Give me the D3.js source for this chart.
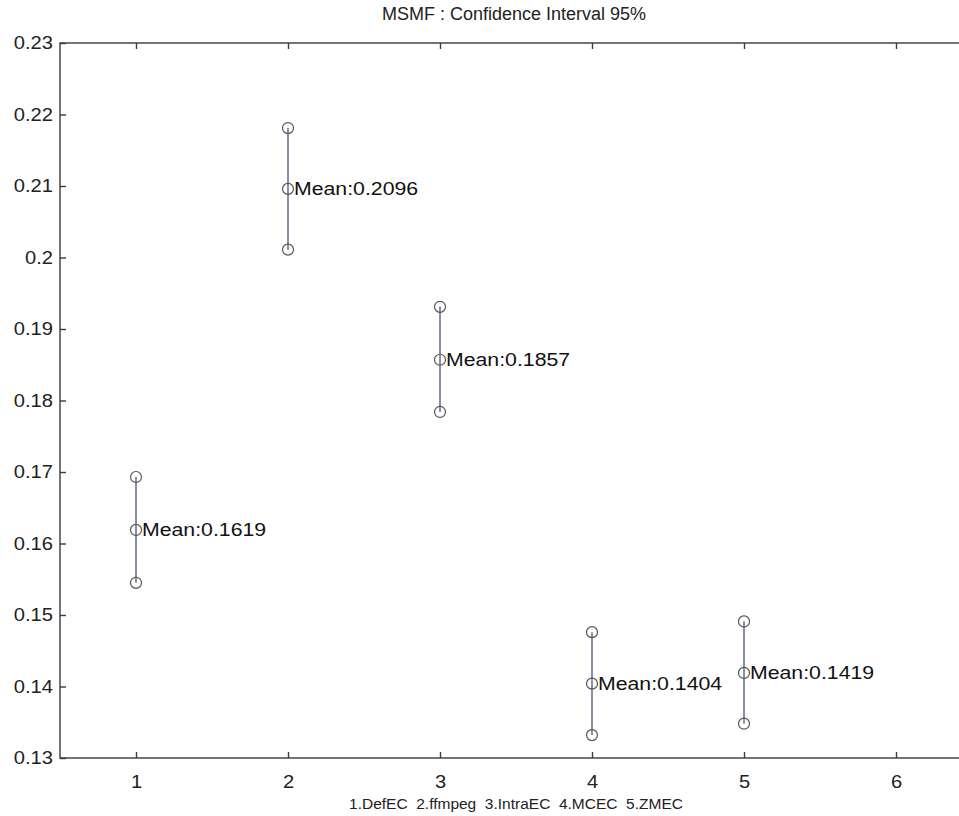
<!DOCTYPE html>
<html><head><meta charset="utf-8">
<script src="https://cdn.jsdelivr.net/npm/d3@7"></script>
<style>body{margin:0;background:#fff;} svg{display:block;}</style>
</head><body>
<svg id="c" width="959" height="816"></svg>
<script>
const groups = [1, 2, 3, 4, 5];
const means = [0.1619, 0.2096, 0.1857, 0.1404, 0.1419];
const uppers = [0.1693, 0.2181, 0.1931, 0.1476, 0.1491];
const lowers = [0.1545, 0.2011, 0.1784, 0.1332, 0.1348];
const xTicks = [1, 2, 3, 4, 5, 6];
const yTicks = [0.13, 0.14, 0.15, 0.16, 0.17, 0.18, 0.19, 0.2, 0.21, 0.22, 0.23];
const title = "MSMF : Confidence Interval 95%";
const xLabel = "1.DefEC  2.ffmpeg  3.IntraEC  4.MCEC  5.ZMEC";

const svg = d3.select("#c");
const L = 60, T = 43, R = 972, B = 758;
const x = d3.scaleLinear().domain([0.5, 6.5]).range([L, R]);
const y = d3.scaleLinear().domain([0.13, 0.23]).range([B, T]);
const font = "Arial, 'Liberation Sans', sans-serif";
const axisCol = "#3a3a3a";

function stretch(sel, sx) {
  sel.each(function () {
    const t = d3.select(this);
    const tx = +t.attr("x") || 0, ty = +t.attr("y") || 0;
    t.attr("x", null).attr("y", null).attr("transform", `translate(${tx},${ty}) scale(${sx},1)`);
  });
}

svg.append("rect").attr("x", L).attr("y", T).attr("width", R - L).attr("height", B - T)
  .attr("fill", "#fff").attr("stroke", axisCol).attr("stroke-width", 1.4);

const gx = svg.append("g").attr("transform", `translate(0,${B})`)
  .call(d3.axisBottom(x).tickValues(xTicks).tickSize(-6).tickPadding(17).tickFormat(d3.format("d")));
const gxt = svg.append("g").attr("transform", `translate(0,${T})`)
  .call(d3.axisTop(x).tickValues(xTicks).tickSize(-6).tickFormat(""));
const gy = svg.append("g").attr("transform", `translate(${L},0)`)
  .call(d3.axisLeft(y).tickValues(yTicks).tickSize(-6).tickPadding(7).tickFormat(d => String(+d.toFixed(2))));
[gx, gxt, gy].forEach(g => {
  g.select(".domain").remove();
  g.selectAll("line").attr("stroke", axisCol).attr("stroke-width", 1.4);
  g.selectAll("text").attr("fill", "#222").style("font-family", font).style("font-size", "18px");
});
stretch(gx.selectAll("text"), 1.12);
stretch(gy.selectAll("text"), 1.12);

const data = groups.map((g, i) => ({g, m: means[i], u: uppers[i], l: lowers[i]}));

svg.selectAll(".ci").data(data).enter().append("line")
  .attr("x1", d => x(d.g)).attr("x2", d => x(d.g))
  .attr("y1", d => y(d.u)).attr("y2", d => y(d.l))
  .attr("stroke", "#727290").attr("stroke-width", 1.6);

const pts = [];
data.forEach(d => { pts.push({g: d.g, v: d.u}); pts.push({g: d.g, v: d.m}); pts.push({g: d.g, v: d.l}); });
svg.selectAll(".pt").data(pts).enter().append("circle")
  .attr("cx", d => x(d.g)).attr("cy", d => y(d.v)).attr("r", 5.5)
  .attr("fill", "none").attr("stroke", "#555").attr("stroke-width", 1.2);

const lbl = svg.selectAll(".lbl").data(data).enter().append("text")
  .attr("x", d => x(d.g) + 6).attr("y", d => y(d.m) + 6)
  .attr("fill", "#111").style("font-family", font).style("font-size", "18.5px")
  .text(d => "Mean:" + d.m.toFixed(4));
stretch(lbl, 1.15);

svg.append("text").attr("x", (L + R) / 2 - 2).attr("y", 20).attr("text-anchor", "middle")
  .attr("fill", "#222").style("font-family", font).style("font-size", "18px").text(title);

svg.append("text").attr("x", (L + R) / 2).attr("y", 809).attr("text-anchor", "middle")
  .attr("fill", "#222").style("font-family", font).style("font-size", "15.5px")
  .style("white-space", "pre").attr("xml:space", "preserve").text(xLabel);
</script>
</body></html>
